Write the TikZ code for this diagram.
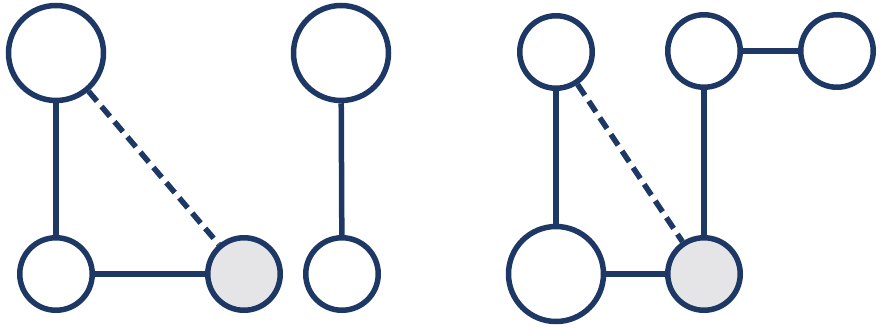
\documentclass[tikz,border=0pt]{standalone}
\definecolor{navy}{RGB}{30,56,102}
\definecolor{lightfill}{RGB}{229,229,231}
\begin{document}
\begin{tikzpicture}[x=1pt,y=-1pt,
  vert/.style={circle,draw=navy,line width=5.5pt,fill=white,inner sep=0pt},
  big/.style={vert,minimum size=95pt},
  small/.style={vert,minimum size=72.5pt},
  hl/.style={fill=lightfill},
  edge/.style={draw=navy,line width=5.5pt},
  dashedge/.style={edge,dash pattern=on 13pt off 7pt}]
\useasboundingbox (0,0) rectangle (880,327);
% left graph
\node[big] (A) at (56,53) {};
\node[big] (B) at (341,53) {};
\node[small] (C) at (56,274) {};
\node[small,hl] (D) at (244,274) {};
\node[small] (E) at (342,274) {};
% right graph
\node[small] (F) at (556,52) {};
\node[small] (G) at (704,51) {};
\node[small] (H) at (837,51) {};
\node[big] (I) at (556,274) {};
\node[small,hl] (J) at (704,274) {};
\path[edge] (A) -- (C);
\path[edge] (C) -- (D);
\path[dashedge] (A) -- (D);
\path[edge] (B) -- (E);
\path[edge] (F) -- (I);
\path[edge] (I) -- (J);
\path[dashedge] (F) -- (J);
\path[edge] (G) -- (J);
\path[edge] (G) -- (H);
\end{tikzpicture}
\end{document}
